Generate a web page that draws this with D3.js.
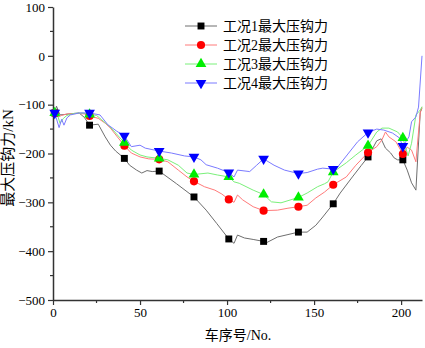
<!DOCTYPE html>
<html>
<head>
<meta charset="utf-8">
<script src="https://cdn.jsdelivr.net/npm/d3@7"></script>
<style>
  body { margin: 0; background: #fff; }
  text { font-family: "Liberation Serif", "Noto Sans CJK SC", serif; }
</style>
</head>
<body>
<div id="chart"></div>
<script>
// series names
var names = ["工况1最大压钩力", "工况2最大压钩力", "工况3最大压钩力", "工况4最大压钩力"];

// x positions where markers sit
var markerX = [1, 21, 41, 61, 81, 101, 121, 141, 161, 181, 201];

// values [car no, force kN]
var case1 = [[1,-117],[2,-103],[4,-121],[7,-120],[12,-118],[15,-117],[18,-126],[21,-142],[26,-140],[30,-166],[33,-183],[36,-195],[41,-210],[44,-224],[48,-234],[51,-240],[54,-235],[57,-237],[61,-236],[71,-262],[81,-289],[88,-316],[94,-343],[101,-375],[104,-384],[106,-367],[110,-373],[115,-376],[121,-380],[123,-382],[129,-371],[135,-366],[141,-361],[146,-361],[151,-347],[155,-330],[161,-303],[165,-281],[172,-248],[177,-225],[181,-207],[186,-174],[188.5,-170],[191,-189],[194,-199],[196,-209],[198,-213],[201,-213],[203.5,-234],[206,-260],[208.5,-275],[211,-115],[212,-108]];
var case2 = [[1,-117],[3,-125],[5,-122],[8,-119],[15,-118],[18,-119],[21,-123],[26,-128],[30,-138],[33,-148],[37,-166],[41,-184],[45,-199],[50,-207],[55,-211],[61,-212],[66,-217],[72,-234],[77,-248],[81,-257],[87,-268],[93,-275],[97,-283],[101,-294],[104,-300],[106,-285],[109,-295],[115,-309],[121,-317],[129,-316],[135,-312],[141,-309],[146,-306],[151,-291],[156,-279],[161,-264],[168.5,-248],[174,-224],[181,-198],[186,-186],[189,-172],[191,-156],[193,-166],[197,-176],[201,-201],[203.5,-187],[206,-193],[208.5,-217],[210,-156],[211,-117],[212,-105]];
var case3 = [[1,-117],[2.5,-120],[4,-138],[6,-128],[8,-122],[12,-118],[17,-117],[21,-120],[25,-122],[28,-131],[32,-143],[35.5,-156],[41,-178],[45,-193],[50,-203],[54,-207],[61,-210],[66,-213],[72,-224],[77,-240],[81,-243],[89,-240],[94.5,-244],[101,-248],[104,-258],[107,-261],[115,-275],[121,-284],[125.5,-299],[131,-301],[141,-290],[146,-281],[152,-268],[156,-262],[158,-258],[161,-238],[168.5,-219],[174,-203],[181,-184],[186,-156],[189,-148],[193,-148],[198,-156],[201,-168],[204,-205],[206,-179],[208.5,-121],[211,-111],[212,-104]];
var case4 = [[1,-117],[3.5,-147],[5,-130],[6.3,-142],[8,-127],[10,-121],[15,-117],[21,-117],[27,-121],[31.5,-141],[36.5,-154],[41,-164],[45,-186],[50,-183],[53,-189],[61,-195],[68,-199],[75.6,-205],[81,-207],[85,-213],[88,-223],[94.5,-230],[101,-239],[104,-248],[106,-234],[113,-237],[117,-224],[121,-211],[127,-224],[133,-234],[141,-241],[146,-239],[152,-232],[155,-230],[161,-232],[163,-230],[169,-203],[175,-176],[181,-157],[186,-150],[190,-152],[195,-158],[199,-168],[201,-185],[204.5,-166],[206,-135],[208.5,-125],[210,-105],[212,0]];

var xTicks = [0, 50, 100, 150, 200];
var yTicks = [100, 0, -100, -200, -300, -400, -500];

var allSeries = [case1, case2, case3, case4];
var lineColors = ["#6e6e6e", "#ff7a7a", "#7af07a", "#7a7aff"];
var markColors = ["#000000", "#ff0000", "#00ee00", "#0000ff"];
var symbols = [d3.symbolSquare, d3.symbolCircle, d3.symbolTriangle, "down"];

var width = 425, height = 348;
var plotLeft = 53, plotRight = 422, plotTop = 7, plotBottom = 300;

var svg = d3.select("#chart").append("svg")
    .attr("width", width)
    .attr("height", height);

var x = d3.scaleLinear().domain([0, 212]).range([plotLeft, plotRight]);
var y = d3.scaleLinear().domain([-500, 100]).range([plotBottom, plotTop]);

// axes
var xAxis = svg.append("g")
    .attr("transform", `translate(0,${plotBottom})`)
    .call(d3.axisBottom(x).tickValues(xTicks).tickSize(5).tickPadding(3).tickSizeOuter(0));
xAxis.selectAll(".tick text").attr("font-size", 13).attr("fill", "#000");

var yAxis = svg.append("g")
    .attr("transform", `translate(${plotLeft},0)`)
    .call(d3.axisLeft(y).tickValues(yTicks).tickSize(5).tickPadding(3).tickSizeOuter(0));
yAxis.selectAll(".tick text").attr("font-size", 13).attr("fill", "#000");

[xAxis, yAxis].forEach(g => {
  g.select(".domain").attr("stroke", "#333").attr("stroke-width", 1.5);
  g.selectAll(".tick line").attr("stroke", "#333").attr("stroke-width", 1.2);
});

// minor ticks
svg.append("g").selectAll("line")
  .data([25, 75, 125, 175])
  .join("line")
    .attr("x1", d => x(d)).attr("x2", d => x(d))
    .attr("y1", plotBottom).attr("y2", plotBottom + 3)
    .attr("stroke", "#333").attr("stroke-width", 1.2);
svg.append("g").selectAll("line")
  .data([50, -50, -150, -250, -350, -450])
  .join("line")
    .attr("y1", d => y(d)).attr("y2", d => y(d))
    .attr("x1", plotLeft).attr("x2", plotLeft - 3)
    .attr("stroke", "#333").attr("stroke-width", 1.2);

// axis titles
svg.append("text")
    .attr("x", 238).attr("y", 340)
    .attr("text-anchor", "middle")
    .attr("font-size", 14)
    .text("车序号/No.");

svg.append("text")
    .attr("transform", "translate(13,158) rotate(-90)")
    .attr("text-anchor", "middle")
    .attr("font-size", 15)
    .text("最大压钩力/kN");

var line = d3.line().x(d => x(d[0])).y(d => y(d[1]));

var symGen = function(i) {
  var s = symbols[i] === "down" ? d3.symbolTriangle : symbols[i];
  var sz = [48, 52, 50, 50][i];
  return d3.symbol().type(s).size(sz)();
};

// lines
allSeries.forEach((data, i) => {
  svg.append("path")
    .datum(data)
    .attr("fill", "none")
    .attr("stroke", lineColors[i])
    .attr("stroke-width", 1)
    .attr("d", line);
});

// markers
allSeries.forEach((data, i) => {
  svg.append("g").selectAll("path")
    .data(data.filter(d => markerX.includes(d[0])))
    .join("path")
      .attr("d", symGen(i))
      .attr("fill", markColors[i])
      .attr("transform", d => `translate(${x(d[0])},${y(d[1])})` + (symbols[i] === "down" ? " rotate(180)" : ""));
});

// legend
var legend = svg.append("g");
names.forEach((n, i) => {
  var ly = 26 + i * 19;
  legend.append("line")
    .attr("x1", 185).attr("x2", 217)
    .attr("y1", ly).attr("y2", ly)
    .attr("stroke", lineColors[i]).attr("stroke-width", 1);
  legend.append("path")
    .attr("d", symGen(i))
    .attr("fill", markColors[i])
    .attr("transform", `translate(201,${ly})` + (symbols[i] === "down" ? " rotate(180)" : ""));
  legend.append("text")
    .attr("x", 223).attr("y", ly)
    .attr("dy", "0.35em")
    .attr("font-size", 14)
    .text(n);
});
</script>
</body>
</html>
